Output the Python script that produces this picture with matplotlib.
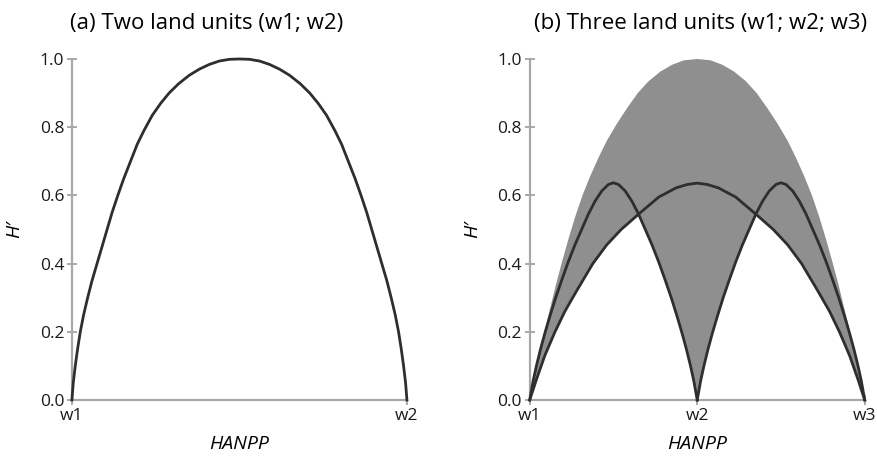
import numpy as np
import matplotlib
matplotlib.use("Agg")
import matplotlib.pyplot as plt

plt.rcParams['font.family'] = ['Open Sans', 'DejaVu Sans']

# (a) two land units, H' along HANPP from w1 (0) to w2 (1)
two_x = [0, 0.004, 0.01, 0.017, 0.025, 0.035, 0.047, 0.06, 0.075, 0.09, 0.105, 0.12, 0.137,
         0.155, 0.175, 0.195, 0.215, 0.24, 0.265, 0.29, 0.318, 0.35, 0.38, 0.41, 0.44, 0.47, 0.5,
         0.53, 0.56, 0.59, 0.62, 0.65, 0.682, 0.71, 0.735, 0.76, 0.785, 0.805, 0.825, 0.845,
         0.863, 0.88, 0.895, 0.91, 0.925, 0.94, 0.953, 0.965, 0.975, 0.983, 0.99, 0.996, 1.0]
two_y = [0, 0.05, 0.1, 0.15, 0.2, 0.25, 0.3, 0.35, 0.4, 0.45, 0.5, 0.55, 0.6,
         0.65, 0.7, 0.75, 0.79, 0.835, 0.87, 0.9, 0.927, 0.952, 0.97, 0.984, 0.994, 0.999, 1.0,
         0.999, 0.994, 0.984, 0.97, 0.952, 0.927, 0.9, 0.87, 0.835, 0.79, 0.75, 0.7, 0.65,
         0.6, 0.55, 0.5, 0.45, 0.4, 0.35, 0.3, 0.25, 0.2, 0.15, 0.1, 0.05, 0]
two_ticks = ["w1", "w2"]

# (b) three land units, HANPP from w1 (0) over w2 (1) to w3 (2)
upper_x = [0, 0.02, 0.04, 0.065, 0.09, 0.12, 0.155, 0.19, 0.23, 0.27, 0.315, 0.36, 0.41,
           0.46, 0.52, 0.58, 0.645, 0.71, 0.78, 0.85, 0.92, 1.0,
           1.08, 1.15, 1.22, 1.29, 1.355, 1.42, 1.48, 1.54, 1.59, 1.64, 1.685, 1.73, 1.77,
           1.81, 1.845, 1.88, 1.91, 1.935, 1.96, 1.98, 2.0]
upper_y = [0, 0.06, 0.105, 0.155, 0.205, 0.265, 0.335, 0.4, 0.47, 0.535, 0.6, 0.655, 0.71,
           0.76, 0.81, 0.855, 0.9, 0.935, 0.963, 0.983, 0.996, 1.0,
           0.996, 0.983, 0.963, 0.935, 0.9, 0.855, 0.81, 0.76, 0.71, 0.655, 0.6, 0.535, 0.47,
           0.4, 0.335, 0.265, 0.205, 0.155, 0.105, 0.06, 0]

broad_x = [0, 0.04, 0.09, 0.151, 0.21, 0.28, 0.377, 0.46, 0.546, 0.65, 0.77, 0.873, 0.94, 1.0,
           1.06, 1.127, 1.23, 1.35, 1.454, 1.54, 1.623, 1.72, 1.79, 1.849, 1.91, 1.96, 2.0]
broad_y = [0, 0.06, 0.13, 0.2, 0.26, 0.32, 0.4, 0.455, 0.5, 0.545, 0.595, 0.622, 0.632, 0.636,
           0.632, 0.622, 0.595, 0.545, 0.5, 0.455, 0.4, 0.32, 0.26, 0.2, 0.13, 0.06, 0]

small1_x = [0, 0.02, 0.04, 0.065, 0.09, 0.12, 0.155, 0.19, 0.23, 0.27, 0.31, 0.35, 0.39, 0.43,
            0.47, 0.5, 0.53, 0.57, 0.61, 0.65, 0.69, 0.73, 0.77, 0.81, 0.845, 0.88, 0.91,
            0.935, 0.96, 0.98, 1.0]
small1_y = [0, 0.055, 0.1, 0.15, 0.195, 0.245, 0.3, 0.35, 0.405, 0.455, 0.5, 0.545, 0.583, 0.613,
            0.632, 0.637, 0.632, 0.613, 0.583, 0.545, 0.5, 0.455, 0.405, 0.35, 0.3, 0.245, 0.195,
            0.15, 0.1, 0.055, 0]
small2_x = [1.0, 1.02, 1.04, 1.065, 1.09, 1.12, 1.155, 1.19, 1.23, 1.27, 1.31, 1.35, 1.39, 1.43,
            1.47, 1.5, 1.53, 1.57, 1.61, 1.65, 1.69, 1.73, 1.77, 1.81, 1.845, 1.88, 1.91,
            1.935, 1.96, 1.98, 2.0]
small2_y = [0, 0.055, 0.1, 0.15, 0.195, 0.245, 0.3, 0.35, 0.405, 0.455, 0.5, 0.545, 0.583, 0.613,
            0.632, 0.637, 0.632, 0.613, 0.583, 0.545, 0.5, 0.455, 0.405, 0.35, 0.3, 0.245, 0.195,
            0.15, 0.1, 0.055, 0]
three_ticks = ["w1", "w2", "w3"]

line_col = '#2e2e2e'
axis_col = '#a8a8a8'
fill_col = '#8f8f8f'


def style_axes(ax, xmax, ticks):
    for s in ['top', 'right']:
        ax.spines[s].set_visible(False)
    for s in ['left', 'bottom']:
        ax.spines[s].set_color(axis_col)
        ax.spines[s].set_linewidth(1.6)
    ax.set_xlim(0, xmax)
    ax.set_ylim(0, 1.0)
    ax.set_xticks(range(len(ticks)))
    ax.set_xticklabels(ticks)
    ax.set_yticks([0, 0.2, 0.4, 0.6, 0.8, 1.0])
    ax.set_yticklabels(['0.0', '0.2', '0.4', '0.6', '0.8', '1.0'])
    ax.tick_params(direction='inout', length=7, width=1.4, color=axis_col,
                   labelsize=12.5, labelcolor='#1a1a1a', pad=2)
    ax.set_xlabel('HANPP', fontsize=14, style='italic', labelpad=8)
    ax.set_ylabel('H\u2032', fontsize=14, style='italic', labelpad=12)
    for sp in ax.spines.values():
        sp.set_clip_on(False)


fig = plt.figure(figsize=(8.77, 4.59), dpi=100)
ax1 = fig.add_axes([0.082, 0.1285, 0.382, 0.743])
ax2 = fig.add_axes([0.604, 0.1285, 0.382, 0.743])

ax1.plot(two_x, two_y, color=line_col, lw=2, clip_on=False, zorder=3)
style_axes(ax1, 1, two_ticks)

# shaded band: upper bound down to the lower envelope of the black curves
bx = np.array(broad_x)
by = np.array(broad_y)
s1x = np.array(small1_x)
s1y = np.array(small1_y)
s2x = np.array(small2_x)
s2y = np.array(small2_y)
low_x = np.r_[bx[bx <= 0.65], s1x[s1x > 0.65], s2x[s2x < 1.35], bx[bx >= 1.35]]
low_y = np.r_[by[bx <= 0.65], s1y[s1x > 0.65], s2y[s2x < 1.35], by[bx >= 1.35]]
poly_x = np.r_[upper_x, low_x[::-1]]
poly_y = np.r_[upper_y, low_y[::-1]]
ax2.fill(poly_x, poly_y, color=fill_col, lw=0, zorder=1)

ax2.plot(broad_x, broad_y, color=line_col, lw=2, clip_on=False, zorder=3)
ax2.plot(small1_x, small1_y, color=line_col, lw=2, clip_on=False, zorder=3)
ax2.plot(small2_x, small2_y, color=line_col, lw=2, clip_on=False, zorder=3)
style_axes(ax2, 2, three_ticks)

fig.text(0.236, 0.948, '(a) Two land units (w1; w2)', fontsize=16, ha='center', va='center')
fig.text(0.799, 0.948, '(b) Three land units (w1; w2; w3)', fontsize=16, ha='center', va='center')

fig.savefig('out.png', dpi=100)
